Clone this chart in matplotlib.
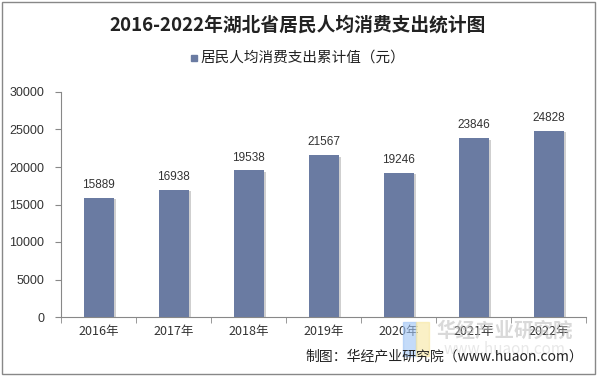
import matplotlib
matplotlib.use("Agg")
import matplotlib.pyplot as plt
import matplotlib.patheffects as pe
from matplotlib.patches import Rectangle

plt.rcParams['font.family'] = ['Noto Sans CJK SC', 'DejaVu Sans']

categories = ['2016年', '2017年', '2018年', '2019年', '2020年', '2021年', '2022年']
values = [15889, 16938, 19538, 21567, 19246, 23846, 24828]
title = '2016-2022年湖北省居民人均消费支出统计图'
legend_label = '居民人均消费支出累计值（元）'
source = '制图：华经产业研究院（www.huaon.com）'

fig = plt.figure(figsize=(5.97, 3.76), dpi=100)
ax = fig.add_axes([61/597, 1-317/376, (586-61)/597, (317-92)/376])

x = list(range(len(categories)))
bars = ax.bar(x, values, width=0.4, color='#6A7BA2', zorder=3,
              path_effects=[pe.SimplePatchShadow(offset=(2, -1), shadow_rgbFace='#888888', alpha=0.4), pe.Normal()])
for xi, v in zip(x, values):
    ax.text(xi, v + 900, str(v), ha='center', va='bottom', fontsize=8.5, color='#333333', family=['Liberation Sans', 'DejaVu Sans'])

ax.set_xlim(-0.5, len(categories) - 0.5)
ax.set_ylim(0, 30000)
ax.set_yticks(range(0, 30001, 5000))
ax.set_yticklabels([str(t) for t in range(0, 30001, 5000)], family=['Liberation Sans', 'DejaVu Sans'], fontsize=9, color='#333333')
ax.set_xticks(x)
ax.set_xticklabels(categories, fontsize=9, color='#333333')
ax.tick_params(axis='x', length=0, pad=6)
ax.tick_params(axis='y', length=4, color='#888888', pad=8, direction='out')
ax.set_xticks([i - 0.5 for i in range(len(categories) + 1)], minor=True)
ax.tick_params(axis='x', which='minor', length=4, color='#888888')
for s in ['top', 'right']:
    ax.spines[s].set_visible(False)
ax.spines['left'].set_color('#888888')
ax.spines['bottom'].set_color('#888888')

fig.text(0.5 - 0.5/597, 1-25/376, title, ha='center', va='center', fontsize=13.5, fontweight='bold', color='#222222')
fig.patches.append(Rectangle((191/597, 1-61/376), 6/597, 6/376, transform=fig.transFigure, color='#6A7BA2'))
fig.text(200/597, 1-58/376, legend_label, ha='left', va='center', fontsize=10.5, color='#222222')

# watermark
fig.text(505/597, 1-331/376, '华经产业研究院', ha='center', va='center', fontsize=14, fontweight='bold', color='#bbbbbb', alpha=0.55)
fig.text(505/597, 1-350/376, 'www.huaon.com', ha='center', va='center', fontsize=11, color='#cccccc', alpha=0.45)
fig.patches.append(Rectangle((403/597, 1-356/376), 13/597, 34/376, transform=fig.transFigure, color='#9ec3f5', alpha=0.6))
fig.patches.append(Rectangle((416/597, 1-356/376), 13/597, 34/376, transform=fig.transFigure, color='#f7e7a0', alpha=0.6))

fig.text(583/597, 1-356/376, source, ha='right', va='center', fontsize=10, color='#222222')

fig.patches.append(Rectangle((0.003, 0.004), 0.994, 0.99, transform=fig.transFigure, fill=False, edgecolor='#888888', linewidth=1))

fig.savefig('out.png', dpi=100)
